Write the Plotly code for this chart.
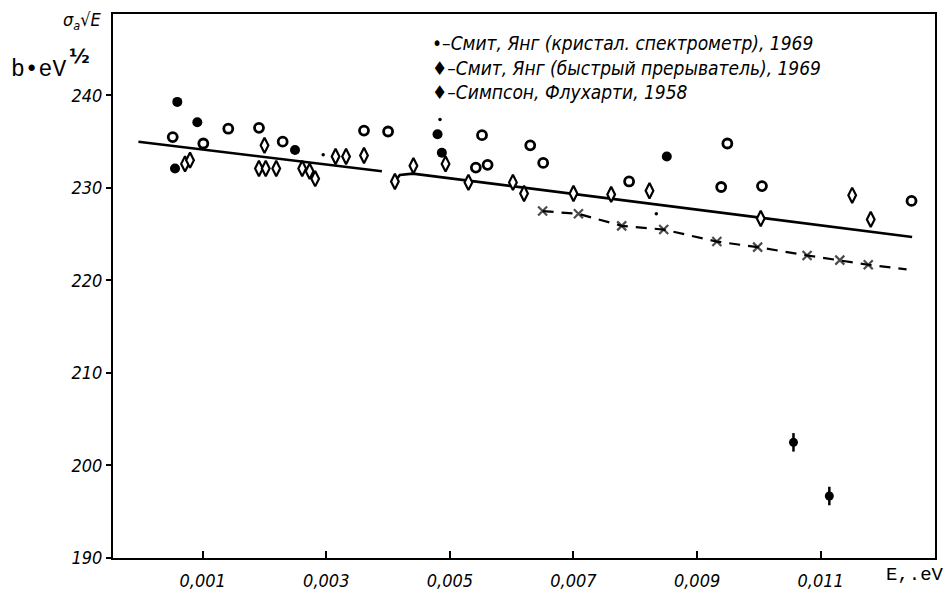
import plotly.graph_objects as go

# Crystal spectrometer (Smith, Young, 1969): solid and hollow circles
cs_solid_x = [0.000589, 0.000913, 0.000552, 0.002494, 0.00480, 0.00487, 0.00851]
cs_solid_y = [239.3, 237.1, 232.1, 234.1, 235.8, 233.8, 233.4]
cs_hollow_x = [0.000515, 0.001414, 0.001911, 0.00101, 0.002294, 0.00361, 0.00400,
               0.00552, 0.00542, 0.00561, 0.00630, 0.00651, 0.00790, 0.00949,
               0.00939, 0.01005, 0.01247]
cs_hollow_y = [235.5, 236.4, 236.5, 234.8, 235.0, 236.2, 236.1,
               235.7, 232.2, 232.5, 234.6, 232.7, 230.7, 234.8,
               230.1, 230.2, 228.6]

# Fast chopper (Smith, Young, 1969)
fc_x = [0.000714, 0.000795, 0.00200, 0.00191, 0.00202, 0.00219, 0.00261, 0.00273,
        0.00282, 0.00315, 0.00332, 0.00361, 0.00411, 0.00441, 0.00493, 0.00530,
        0.00602, 0.00620, 0.00700, 0.00761, 0.00823, 0.01003, 0.01151, 0.01181]
fc_y = [232.6, 233.0, 234.6, 232.1, 232.1, 232.1, 232.1, 231.8,
        231.0, 233.4, 233.4, 233.5, 230.7, 232.4, 232.6, 230.6,
        230.6, 229.4, 229.4, 229.3, 229.7, 226.7, 229.2, 226.6]

# Simpson, Fluharty (1958), with vertical error bars
sf_x = [0.01056, 0.01114]
sf_y = [202.5, 196.7]
sf_err = [1.0, 1.0]
sf_minor_x = [0.00295, 0.00484, 0.00834]
sf_minor_y = [233.6, 237.4, 227.2]

# Fitted curves
fit1_x = [-0.00004, 0.00390]
fit1_y = [235.0, 231.8]
fit2_x = [0.00411, 0.00419, 0.00440, 0.01248]
fit2_y = [230.7, 231.4, 231.55, 224.7]
calc_x = [0.00650, 0.00708, 0.00778, 0.00846, 0.00932, 0.00998, 0.01078,
          0.01131, 0.01177, 0.01239]
calc_y = [227.5, 227.2, 225.9, 225.5, 224.2, 223.6, 222.7, 222.2, 221.7, 221.2]

x_tickvals = [0.001, 0.003, 0.005, 0.007, 0.009, 0.011]
x_ticktext = ["0,001", "0,003", "0,005", "0,007", "0,009", "0,011"]
y_tickvals = [190, 200, 210, 220, 230, 240]

legend_lines = ["•–Смит, Янг (кристал. спектрометр), 1969",
                "♦–Смит, Янг (быстрый прерыватель), 1969",
                "♦–Симпсон, Флухарти, 1958"]

HAND = "Liberation Sans Narrow, DejaVu Sans Condensed, DejaVu Sans, sans-serif"
TYPE = "Liberation Mono, DejaVu Sans Mono, monospace"

# pixel -> paper helpers for the 113..935 x 14..573 plot box
def px_x(p):
    return (p - 113) / 822

def px_y(p):
    return (573 - p) / 559

fig = go.Figure()

fig.add_trace(go.Scatter(x=fit1_x, y=fit1_y, mode="lines",
                         line=dict(color="black", width=2.6), hoverinfo="skip"))
fig.add_trace(go.Scatter(x=fit2_x, y=fit2_y, mode="lines",
                         line=dict(color="black", width=2.6), hoverinfo="skip"))
marker_sizes = [9] * (len(calc_x) - 1) + [0]
fig.add_trace(go.Scatter(x=calc_x, y=calc_y, mode="lines+markers",
                         line=dict(color="black", width=2.2, dash="11px,8px"),
                         marker=dict(symbol="x-thin-open", size=marker_sizes,
                                     line=dict(color="black", width=2.2)),
                         hoverinfo="skip"))

fig.add_trace(go.Scatter(x=cs_solid_x, y=cs_solid_y, mode="markers",
                         marker=dict(symbol="circle", size=10, color="black")))
fig.add_trace(go.Scatter(x=cs_hollow_x, y=cs_hollow_y, mode="markers",
                         marker=dict(symbol="circle", size=9, color="white",
                                     line=dict(color="black", width=2.8))))
fig.add_trace(go.Scatter(x=fc_x, y=fc_y, mode="markers",
                         marker=dict(symbol="diamond-tall", size=11, color="white",
                                     line=dict(color="black", width=2.2))))
fig.add_trace(go.Scatter(x=sf_x, y=sf_y, mode="markers",
                         error_y=dict(type="data", array=sf_err, color="black",
                                      thickness=2.5, width=0),
                         marker=dict(symbol="circle", size=9, color="black")))
fig.add_trace(go.Scatter(x=sf_minor_x, y=sf_minor_y, mode="markers",
                         marker=dict(symbol="circle", size=3.5, color="black")))

axis_common = dict(showline=True, linecolor="black", linewidth=2, mirror=True,
                   showgrid=False, zeroline=False,
                   tickfont=dict(family=HAND, size=18, color="black", style="italic"))

fig.update_xaxes(range=[-0.0004515, 0.01285], tickvals=x_tickvals, ticktext=x_ticktext,
                 ticks="inside", ticklen=7, tickwidth=1.5, tickcolor="black",
                 ticklabelstandoff=5, **axis_common)
fig.update_yaxes(range=[190, 248.8], tickvals=y_tickvals,
                 ticks="outside", ticklen=5, tickwidth=1.5, tickcolor="black",
                 **axis_common)

# legend block
fig.add_annotation(text="<br>".join(legend_lines), xref="paper", yref="paper",
                   x=px_x(430), y=px_y(30), xanchor="left", yanchor="top",
                   align="left", showarrow=False,
                   font=dict(family=HAND, size=19, color="black", style="italic"))

# axis titles
fig.add_annotation(text="σ<sub>a</sub>√E", xref="paper", yref="paper",
                   x=px_x(82), y=px_y(21), xanchor="center", yanchor="middle",
                   showarrow=False,
                   font=dict(family=HAND, size=18, color="black", style="italic"))
fig.add_annotation(text="b•eV", xref="paper", yref="paper",
                   x=px_x(9), y=px_y(72), xanchor="left", yanchor="middle",
                   showarrow=False, font=dict(family=TYPE, size=23, color="black"))
fig.add_annotation(text="½", xref="paper", yref="paper",
                   x=px_x(79), y=px_y(57), xanchor="center", yanchor="middle",
                   showarrow=False,
                   font=dict(family="DejaVu Sans", size=20, color="black", weight="bold"))
fig.add_annotation(text="E,.eV", xref="paper", yref="paper",
                   x=px_x(946), y=px_y(590), xanchor="right", yanchor="middle",
                   showarrow=False, font=dict(family=TYPE, size=19, color="black"))

fig.update_layout(
    width=950, height=603,
    margin=dict(l=113, r=15, t=14, b=30),
    plot_bgcolor="white", paper_bgcolor="white",
    showlegend=False,
)

fig.write_html("out.html")
